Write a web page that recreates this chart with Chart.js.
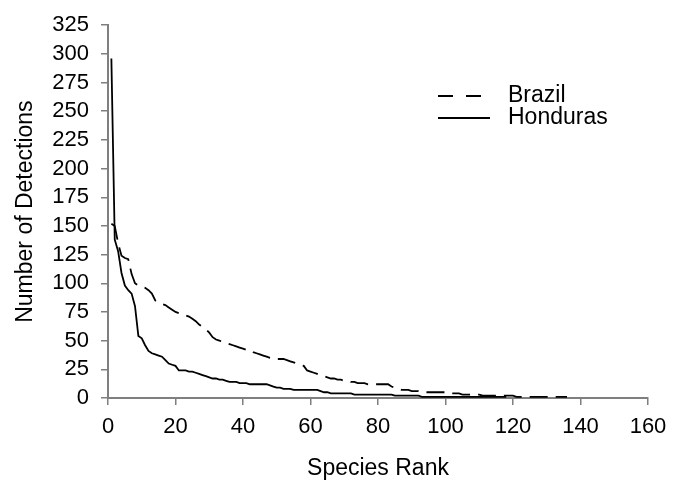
<!DOCTYPE html>
<html>
<head>
<meta charset="utf-8">
<script src="https://cdn.jsdelivr.net/npm/chart.js@4/dist/chart.umd.min.js"></script>
<style>
  html, body { margin: 0; padding: 0; background: #fff; }
  #wrap { width: 681px; height: 483px; position: relative; }
</style>
</head>
<body>
<div id="wrap"><canvas id="c"></canvas></div>
<script>
// ---- data ----
const seriesNames = ['Brazil', 'Honduras'];
const xAxisTitle = 'Species Rank';
const yAxisTitle = 'Number of Detections';
const xTicks = [0, 20, 40, 60, 80, 100, 120, 140, 160];
const yTicks = [0, 25, 50, 75, 100, 125, 150, 175, 200, 225, 250, 275, 300, 325];

// detections by species rank (rank = position in list, starting at 1)
const brazil = [
  152,150,135,124,122,121,108,100,98,97,
  96,94,91,85,83,82,81,79,77,75,
  74,73,72,71,69,67,64,62,60,57,
  53,51,50,49,48,47,46,45,44,43,
  42,42,40,39,38,37,36,35,35,34,
  34,34,33,32,31,30,29,28,24,23,
  22,21,20,19,18,17,17,16,16,15,
  15,14,14,13,13,13,12,12,12,12,
  12,12,12,10,9,8,7,7,7,6,
  6,6,5,5,5,5,5,5,5,5,
  4,4,4,4,3,3,3,3,3,3,
  2,2,2,2,2,2,2,2,2,2,
  1,1,1,1,1,1,1,1,1,1,
  1,1,1,1,1,1
];
const honduras = [
  296,138,128,109,98,94,91,80,54,52,
  46,41,39,38,37,36,33,30,29,28,
  24,24,24,23,23,22,21,20,19,18,
  17,17,16,16,15,14,14,14,13,13,
  13,12,12,12,12,12,12,11,10,9,
  9,8,8,8,7,7,7,7,7,7,
  7,7,6,5,5,4,4,4,4,4,
  4,4,3,3,3,3,3,3,3,3,
  3,3,3,3,2,2,2,2,2,2,
  2,2,1,1,1,1,1,1,1,1,
  1,1,1,1,1,1,1,1,1,1,
  1,1,1,1,1,1,1,1
];

// ---- chart ----
const FONT = '"Liberation Sans", Arial, Helvetica, sans-serif';
const toPoints = arr => arr.map((v, i) => ({ x: i + 1, y: v }));

const insideLegend = {
  id: 'insideLegend',
  afterDraw(chart, args, opts) {
    const ctx = chart.ctx;
    ctx.save();
    ctx.font = opts.fontSize + 'px ' + FONT;
    ctx.fillStyle = '#000';
    ctx.textBaseline = 'middle';
    ctx.textAlign = 'left';
    chart.data.datasets.forEach((ds, i) => {
      const y = opts.y[i];
      ctx.beginPath();
      ctx.setLineDash(opts.dash[i]);
      ctx.lineWidth = ds.borderWidth;
      ctx.strokeStyle = ds.borderColor;
      ctx.moveTo(opts.x0, y);
      ctx.lineTo(opts.x1[i], y);
      ctx.stroke();
      ctx.setLineDash([]);
      ctx.fillText(ds.label, opts.textX, y);
    });
    ctx.restore();
  }
};

new Chart(document.getElementById('c'), {
  type: 'line',
  data: {
    datasets: [
      {
        label: seriesNames[0],
        data: toPoints(brazil),
        borderColor: '#000',
        borderWidth: 1.8,
        borderDash: [18, 8],
        pointRadius: 0,
        tension: 0,
        fill: false
      },
      {
        label: seriesNames[1],
        data: toPoints(honduras),
        borderColor: '#000',
        borderWidth: 1.8,
        pointRadius: 0,
        tension: 0,
        fill: false
      }
    ]
  },
  options: {
    responsive: true,
    maintainAspectRatio: false,
    animation: false,
    devicePixelRatio: 1,
    layout: { padding: { top: 19, right: 33, bottom: 0, left: 0 } },
    plugins: {
      legend: { display: false },
      tooltip: { enabled: false },
      insideLegend: {
        fontSize: 23,
        x0: 438,
        x1: [486, 490],
        textX: 508,
        y: [96, 118],
        dash: [[15, 13], []]
      }
    },
    scales: {
      x: {
        type: 'linear',
        min: xTicks[0],
        max: xTicks[xTicks.length - 1],
        afterBuildTicks: s => { s.ticks = xTicks.map(v => ({ value: v })); },
        afterFit: s => { s.height = 85; },
        grid: { display: true, drawOnChartArea: false, drawTicks: true, tickLength: 7, color: '#7f7f7f', lineWidth: 1.5 },
        border: { display: true, color: '#7f7f7f', width: 2 },
        ticks: { color: '#000', font: { family: FONT, size: 22 }, padding: 9, maxRotation: 0, autoSkip: false },
        title: { display: true, text: xAxisTitle, color: '#000', font: { family: FONT, size: 23, lineHeight: 1.2 }, padding: { top: 0, bottom: 1 } }
      },
      y: {
        type: 'linear',
        min: yTicks[0],
        max: yTicks[yTicks.length - 1],
        afterBuildTicks: s => { s.ticks = yTicks.map(v => ({ value: v })); },
        afterFit: s => { s.width = 108; },
        grid: { display: true, drawOnChartArea: false, drawTicks: true, tickLength: 7, color: '#7f7f7f', lineWidth: 1.5 },
        border: { display: true, color: '#7f7f7f', width: 2 },
        ticks: { color: '#000', font: { family: FONT, size: 22 }, padding: 12, autoSkip: false },
        title: { display: true, text: yAxisTitle, color: '#000', font: { family: FONT, size: 23, lineHeight: 1.2 }, padding: { top: 12, bottom: 0 } }
      }
    }
  },
  plugins: [insideLegend]
});
</script>
</body>
</html>
